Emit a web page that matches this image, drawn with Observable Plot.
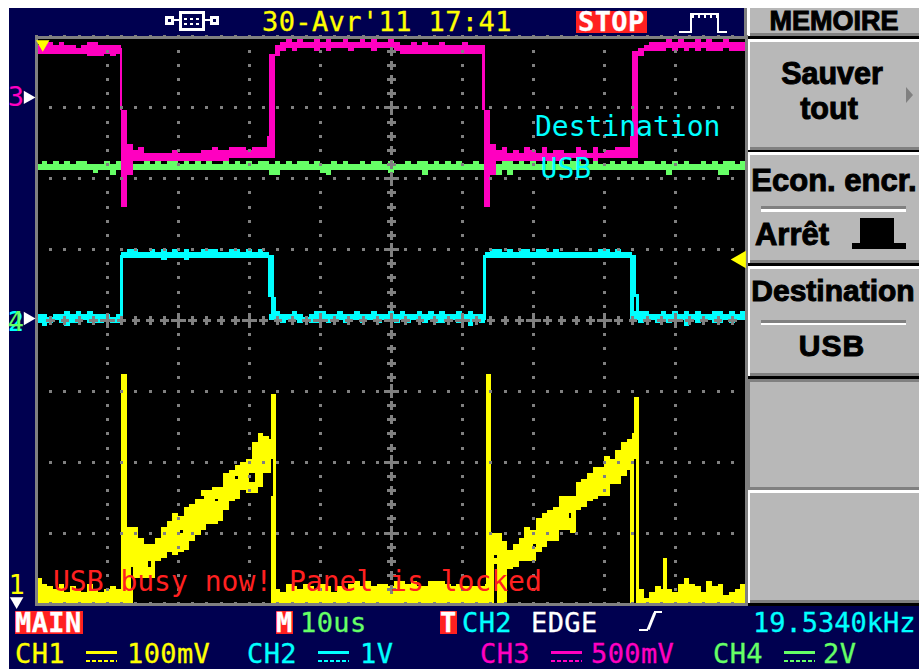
<!DOCTYPE html>
<html lang="fr">
<head>
<meta charset="utf-8">
<title>Oscilloscope</title>
<script src="https://cdn.jsdelivr.net/npm/d3@7"></script>
<script src="https://cdn.jsdelivr.net/npm/@observablehq/plot@0.6"></script>
<style>
html,body{margin:0;padding:0;width:919px;height:669px;overflow:hidden;background:#fff}
#stage{position:relative;width:919px;height:669px;overflow:hidden}
#stage svg{position:absolute;left:0;top:0}
.b{position:absolute}
.m{position:absolute;font-family:"DejaVu Sans Mono",monospace;font-size:27px;line-height:1;letter-spacing:.4px;white-space:pre;-webkit-text-stroke:.3px currentColor}
.s{position:absolute;font-family:"Liberation Sans",sans-serif;font-weight:700;color:#000;line-height:1;white-space:pre;transform:translateX(-50%);-webkit-text-stroke:1px #000}
</style>
</head>
<body>
<div id="stage"></div>
<script>
// One value per column, a column being 2 scope samples wide (250 samples = 10 div, 25 counts = 1 div)
const columnStart = d3.range(0, 250, 2);

const ch1Top = [
  9,7,6,5,7,4,6,5,4,7,
  5,4,5,6,5,27,27,27,23,21,
  21,23,27,29,32,31,34,35,37,40,
  40,41,41,46,47,49,50,51,57,60,
  59,58,5,4,7,6,5,7,6,5,
  7,6,4,6,5,7,8,6,8,6,
  7,7,6,8,8,7,8,6,6,8,
  8,8,7,6,7,6,6,6,6,7,
  25,25,22,19,21,23,27,26,30,32,
  33,34,38,38,38,43,44,46,48,48,
  52,51,54,57,58,60,5,2,4,6,
  5,5,4,7,9,7,6,4,8,6,
  7,3,4,5,7];
const ch1Bottom = [
  0,0,0,0,0,0,0,0,0,0,
  0,0,0,0,0,0,0,9,9,9,
  9,15,16,18,17,18,19,22,24,26,
  28,28,29,33,36,37,40,39,39,41,
  46,46,0,0,0,0,0,0,0,0,
  0,0,0,0,0,0,0,0,0,0,
  0,0,0,0,0,0,0,0,0,0,
  0,0,0,0,0,0,0,0,0,0,
  0,0,0,12,13,15,15,15,18,20,
  22,22,26,26,25,33,34,36,37,38,
  38,42,42,45,47,48,0,0,0,0,
  0,0,0,0,0,0,0,0,0,0,
  0,0,0,0,0];
// start sample, end sample, peak count
const ch1Spikes = [[30,32,81],[82.6,84.6,74],[158.5,160.2,81],[209.2,210.4,50],[210.4,212.4,73],[220.6,222.3,16]];
// gaps left in the trace: start, end, low count, high count
const ch1Gaps = [[82.6,83.6,38,51],[210.4,211.4,0,51],[161.3,162.2,0,14],[33.3,34.2,5,13],[39.6,40.4,13,15],
  [75,77,43,46],[50.7,51.6,25,26],[58,59,37,38],[187.5,188.5,30,32],[175,176,20,21],[161.3,162.2,16,17],[70,71,44,45],[63,64,36,37]];

const ch2Top = [
  102,102,101,102,102,103,102,103,102,103,
  102,102,102,101,102,124,125,125,124,124,
  125,124,125,124,125,124,125,124,124,125,
  125,125,124,124,125,125,124,125,124,125,
  124,102,103,102,102,103,102,101,102,103,
  103,102,102,103,102,102,103,102,102,103,
  102,102,103,102,103,102,102,103,102,103,
  102,103,102,102,103,102,103,102,102,124,
  125,125,124,125,124,125,125,124,125,125,
  124,125,124,124,124,124,124,124,124,125,
  125,124,125,124,124,103,103,103,102,102,
  103,102,103,102,103,102,103,102,102,103,
  103,102,103,102,103];
const ch2Bottom = [
  99,98,99,100,99,98,99,99,100,99,
  99,99,100,99,99,122,122,122,122,122,
  122,122,121,122,122,122,121,122,122,122,
  122,122,122,122,122,122,122,122,122,122,
  122,100,100,99,100,100,99,100,99,99,
  100,99,100,100,99,100,100,99,100,100,
  99,100,100,99,100,99,100,100,99,100,
  99,99,100,100,99,100,98,100,99,122,
  122,122,122,122,122,122,122,122,122,122,
  122,122,122,122,122,122,122,122,122,122,
  122,122,122,122,122,100,99,100,100,99,
  100,99,100,100,98,100,99,100,100,99,
  99,100,99,100,100];
// edges: start, end, low count, high count
const ch2Edges = [[29.6,30.6,100,123],[81.7,83.7,108,123],[82.8,84.6,100,108],
  [157.5,158.5,100,123],[209.2,210.4,100,123],[210.4,211.3,108,123],[211.3,212.4,100,109]];

const ch3Top = [
  197,197,198,197,198,197,197,196,197,198,
  198,197,197,197,197,174,162,160,161,159,
  159,159,159,159,160,159,159,159,159,160,
  160,161,160,160,161,161,161,160,161,161,
  161,194,197,198,199,198,199,198,198,199,
  198,199,198,198,199,198,198,199,198,199,
  198,198,199,198,197,197,198,197,198,197,
  197,198,197,197,197,198,197,197,197,174,
  162,160,161,159,160,159,161,160,159,161,
  159,160,160,159,159,161,160,159,161,159,
  160,160,161,161,161,195,196,197,198,198,
  198,199,198,199,198,198,199,198,199,198,
  198,199,198,198,198];
const ch3Bottom = [
  194,194,194,194,194,194,194,194,194,193,
  193,193,194,193,194,140,151,156,156,156,
  156,156,156,156,156,156,156,156,156,156,
  156,156,156,156,157,157,157,157,157,157,
  157,157,193,195,196,195,196,196,196,195,
  196,195,196,196,196,195,196,196,196,195,
  196,196,196,195,194,194,194,194,194,194,
  194,194,194,194,194,194,194,194,194,140,
  151,156,156,156,156,156,156,156,156,156,
  156,156,156,157,157,156,157,157,156,157,
  157,157,157,157,157,157,193,195,195,195,
  195,196,195,196,195,196,195,196,195,195,
  195,196,195,195,195];
const ch3Edges = [[29.6,30.4,174,196],[157,158,174,196],[81.5,82.6,157,165],[209.2,210.4,157,165],[157.6,160,140,174]];

const ch4Top = [
  155,156,155,156,155,156,155,156,156,155,
  155,155,156,155,156,156,156,155,155,156,
  155,156,155,156,156,155,156,155,156,155,
  156,155,155,156,155,156,155,156,155,156,
  156,155,156,155,156,155,156,156,155,156,
  155,155,156,155,156,155,155,156,155,156,
  156,155,156,155,155,156,155,156,156,155,
  156,155,156,155,156,155,155,156,155,156,
  156,155,156,156,155,156,155,156,155,155,
  156,155,156,155,156,156,155,155,156,155,
  155,156,155,156,155,156,155,156,156,155,
  156,155,156,155,156,155,155,156,155,156,
  155,156,156,155,156];
const ch4Bottom = [
  153,153,153,153,153,153,153,153,153,153,
  152,153,153,151,153,153,153,153,153,153,
  153,153,153,153,153,153,153,153,153,153,
  153,153,153,153,153,153,153,153,153,153,
  153,151,151,153,153,153,153,153,153,153,
  152,151,153,153,153,153,153,153,153,153,
  153,153,152,153,153,153,153,153,151,153,
  153,153,153,153,153,153,153,153,153,153,
  153,151,153,151,153,153,153,153,153,153,
  153,153,153,153,153,153,153,153,153,153,
  153,153,153,153,153,153,153,153,153,153,
  153,151,153,153,153,153,153,153,153,153,
  151,151,153,153,153];

// reference markers at the screen edges
const refMarks = [["3",178.7],["2",99.5],["4",99.5]];
const annotations = [
  {text:"Destination", s:175.5, c:168.3, color:"#00ffff"},
  {text:"USB", s:177.5, c:153.6, color:"#00ffff"},
  {text:"USB busy now! Panel is locked", s:5.8, c:7.7, color:"#ff2020"}
];

const grey = "#808080";
const columns = (top, bottom) => columnStart.map((s,i)=>({x1:s, x2:s+2, y1:bottom[i], y2:top[i]}));
const spans = a => a.map(([x1,x2,y1,y2])=>({x1,x2,y1,y2}));
const band = (top,bottom,color) => Plot.rect(columns(top,bottom),{x1:"x1",x2:"x2",y1:"y1",y2:"y2",fill:color,shapeRendering:"crispEdges"});
const pieces = (list,color) => Plot.rect(spans(list),{x1:"x1",x2:"x2",y1:"y1",y2:"y2",fill:color,shapeRendering:"crispEdges"});

const majorX = d3.range(0,251,25), majorY = d3.range(0,201,25);
const fine = d3.range(0,251,5), fineY = d3.range(0,201,5);
const gridDots = [];
majorX.filter(x=>x!==125).forEach(x=>fineY.forEach(y=>{ if(y!==100 && !(x===250&&y%25)) gridDots.push({x,y}); }));
majorY.filter(y=>y!==100).forEach(y=>fine.forEach(x=>{ if(x!==125) gridDots.push({x,y}); }));
const crossSmall = [], crossBig = [];
fineY.forEach(y=>{ if(y>0&&y<200) (y%25===0?crossBig:crossSmall).push({x:125,y}); });
fine.forEach(x=>{ if(x>0&&x<250&&x!==125) (x%25===0?crossBig:crossSmall).push({x,y:100}); });

const chart = Plot.plot({
  width:919, height:669,
  marginLeft:36, marginRight:173, marginTop:36.5, marginBottom:65.5,
  style:{background:"transparent"},
  x:{domain:[0,250], axis:null},
  y:{domain:[0,200], axis:null},
  marks:[
    Plot.frame({fill:"#000", stroke:"none"}),
    band(ch1Top,ch1Bottom,"#ffff00"),
    pieces(ch1Spikes.map(([a,b,c])=>[a,b,0,c]),"#ffff00"),
    pieces(ch1Gaps,"#000"),
    band(ch2Top,ch2Bottom,"#00ffff"),
    pieces(ch2Edges,"#00ffff"),
    band(ch4Top,ch4Bottom,"#66ff66"),
    band(ch3Top,ch3Bottom,"#ff00c0"),
    pieces(ch3Edges,"#ff00c0"),
    Plot.dot(gridDots,{x:"x",y:"y",symbol:"square",r:1.7,fill:grey,shapeRendering:"crispEdges"}),
    Plot.dot(crossSmall,{x:"x",y:"y",symbol:"plus",r:2.9,stroke:grey,strokeWidth:3,shapeRendering:"crispEdges"}),
    Plot.dot(crossBig,{x:"x",y:"y",symbol:"plus",r:4.6,stroke:grey,strokeWidth:3,shapeRendering:"crispEdges"}),
    Plot.frame({stroke:grey,strokeWidth:3,shapeRendering:"crispEdges"}),
    // channel and trigger reference arrows
    Plot.dot([{x:2.2,y:197.5}],{x:"x",y:"y",symbol:"triangle",r:5,rotate:180,fill:"#ffff00"}),
    Plot.dot([{x:248,y:121.5}],{x:"x",y:"y",symbol:"triangle",r:6.5,rotate:-90,fill:"#ffff00"}),
    Plot.dot([{x:-3.1,y:178.7},{x:-3.1,y:100.7}],{x:"x",y:"y",symbol:"triangle",r:5,rotate:90,fill:"#fff"}),
    Plot.dot([{x:-7,y:1}],{x:"x",y:"y",symbol:"triangle",r:5,rotate:180,fill:"#fff"}),
    Plot.text(refMarks,{x:()=>-7.3,y:d=>d[1],text:d=>d[0],fontSize:27,fontFamily:"DejaVu Sans Mono",
      fill:d=>({"3":"#ff00c0","2":"#00ffff","4":"#66ff66"}[d[0]])}),
    Plot.text([{t:"1"}],{x:()=>-7,y:()=>6.5,text:"t",fontSize:27,fontFamily:"DejaVu Sans Mono",fill:"#ffff00"}),
    Plot.text(annotations,{x:"s",y:"c",text:"text",fill:"color",textAnchor:"start",fontSize:28,fontFamily:"DejaVu Sans Mono"})
  ]
});

// ---- instrument screen around the plot ----
const stage = document.getElementById("stage");
function box(l,t,w,h,bg,extra){const d=document.createElement("div");d.className="b";d.style.cssText=`left:${l}px;top:${t}px;width:${w}px;height:${h}px;background:${bg};${extra||""}`;stage.appendChild(d);return d;}
function mono(txt,l,t,color,extra){const d=document.createElement("div");d.className="m";d.textContent=txt;d.style.cssText=`left:${l}px;top:${t}px;color:${color};${extra||""}`;stage.appendChild(d);}
function soft(txt,cx,t,fs,extra){const d=document.createElement("div");d.className="s";d.textContent=txt;d.style.cssText=`left:${cx}px;top:${t}px;font-size:${fs}px;${extra||""}`;stage.appendChild(d);}

const navy="#000050", panel="#b8b8b8", red="#ff2020";
box(9,8,910,661,navy);
// menu column
box(744,8,3,597,grey);
box(747,36,172,570,"#000");
[[8,36,0],[39,150,1],[152,263,1],[266,376,1],[379,490,2],[490,603,1]].forEach(([t,b,k])=>{
  box(747,t,172,b-t,panel);
  box(747,b-3,172,3,grey);
  box(747,t,3,b-t,k===2?grey:"#fff");
  if(k===1) box(747,t,172,3,"#fff");
  if(k===2) box(747,t,172,3,grey);
});
soft("MEMOIRE",834,8,27);
soft("Sauver",832,58,30.5);
soft("tout",829,93,30.5);
box(906,87,7,16,grey,"clip-path:polygon(0 0,100% 50%,0 100%)");
soft("Econ. encr.",834,165,31);
box(761,206,145,3,grey); box(761,209,145,3,"#fff");
soft("Arrêt",792,219,31);
box(860,218,34,25,"#000"); box(852,243,54,6,"#000");
soft("Destination",833,276,30);
box(761,320,145,2.5,grey); box(761,322.5,145,2.5,"#fff");
soft("USB",832,331,30,"letter-spacing:1px");
// header
box(165,16,9,9,"#fff"); box(168,19,3,3,navy);
box(210,16,9,9,"#fff"); box(213,19,3,3,navy);
box(174,19,5,2,"#fff"); box(205,19,5,2,"#fff");
box(179,11,26,20,"transparent","box-sizing:border-box;border:3px solid #fff;");
box(184,18,16,2,"repeating-linear-gradient(90deg,#fff 0 3px,transparent 3px 6px)");
box(184,23,16,2,"repeating-linear-gradient(90deg,#fff 0 3px,transparent 3px 6px)");
mono("30-Avr'11 17:41",262,8,"#ffff00");
box(576,11,71,22,red);
mono("STOP",578,8,"#fff","font-weight:700");
box(679,31,11,2,"#fff"); box(690,13,2,20,"#fff"); box(690,13,27,2,"#fff");
box(692,15,25,3,"repeating-linear-gradient(90deg,#fff 0 2px,transparent 2px 6px)");
box(717,13,2,20,"#fff"); box(717,31,10,2,"#fff");
// footer, row 1
box(15,611,68,23,red);
mono("MAIN",15,609,"#fff","font-weight:700");
box(276,611,17,23,red);
mono("M",276,609,"#fff","font-weight:700");
mono("10us",300,609,"#66ff66");
box(440,611,17,23,red);
mono("T",440,609,"#fff","font-weight:700");
mono("CH2",462,609,"#00ffff");
mono("EDGE",531,609,"#fff");
box(639,629,9,2,"#fff"); box(650,612,2.5,18,"#fff","transform:rotate(22deg)"); box(654,611,8,2,"#fff");
mono("19.5340kHz",753,609,"#00ffff","letter-spacing:0");
// footer, row 2
function chan(name,nx,lx,value,vx,color){
  mono(name,nx,639.5,color);
  box(lx,651,31,2.5,color);
  box(lx,660,31,2,`repeating-linear-gradient(90deg,${color} 0 4px,transparent 4px 6px)`);
  mono(value,vx,639.5,color);
}
chan("CH1",15,86,"100mV",127,"#ffff00");
chan("CH2",247,318,"1V",360,"#00ffff");
chan("CH3",480,551,"500mV",591,"#ff00c0");
chan("CH4",713,784,"2V",823,"#66ff66");

stage.appendChild(chart);
</script>
</body>
</html>
